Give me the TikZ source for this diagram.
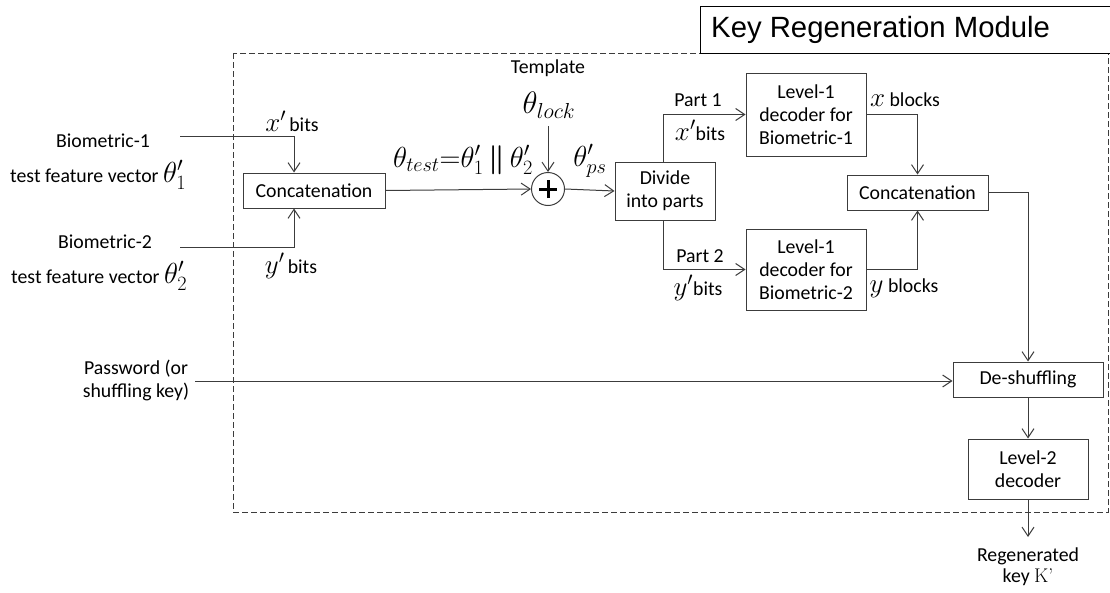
\RequirePackage{fix-cm}
\documentclass[tikz,border=0pt]{standalone}
\usepackage{amsmath}
\usepackage{fontspec}
\setmainfont{Carlito}
\newfontfamily\titlefont{Liberation Sans}
\newfontfamily\serifK{Latin Modern Roman}
\usetikzlibrary{arrows.meta,calc}
\definecolor{lncol}{HTML}{3C3C3C}
\newcommand{\mfs}{\fontsize{29}{32}\selectfont}
\newcommand{\xfs}{\fontsize{27}{30}\selectfont}
\newcommand{\tfs}{\fontsize{19.8}{23}\selectfont}
\begin{document}
\begin{tikzpicture}[x=1pt,y=-1pt,
  lbl/.style={font=\tfs, inner sep=0pt, align=center, text=black},
  mlbl/.style={font=\mfs, inner sep=0pt},
  blk/.style={draw=lncol, line width=1pt, inner sep=0pt, align=center, font=\tfs},
  arr/.style={draw=lncol, line width=1pt, -{Straight Barb[length=9pt,width=12pt,line width=1pt]}},
  ln/.style={draw=lncol, line width=1pt}]
\useasboundingbox (0,0) rectangle (1110,592);
\begin{scope}
\clip (0,0) rectangle (1110,592);
% dashed module frame
\draw[lncol, line width=1pt, dash pattern=on 6pt off 3pt] (233,53) rectangle (1108,512);
% title box
\node[draw=black, line width=1pt, fill=white, minimum width=420pt, minimum height=47pt, anchor=north west, inner sep=0pt] (title) at (700,6) {};
\node[anchor=west, inner sep=0pt, font=\titlefont\fontsize{29.3}{31}\selectfont] (titletext) at (711,30) {Key Regeneration Module};
\end{scope}

% blocks
\node[blk, minimum width=142pt, minimum height=35pt] (cat1) at (314,190.5) {Concatenation};
\node[draw=lncol, line width=1pt, circle, minimum size=33pt, inner sep=0pt] (plus) at (548,189) {};
\draw[line width=3pt] ([xshift=-9pt]plus.center) -- ([xshift=9pt]plus.center);
\draw[line width=3pt] ([yshift=-9pt]plus.center) -- ([yshift=9pt]plus.center);
\node[blk, minimum width=100pt, minimum height=58pt] (divide) at (665,191) {Divide\\into parts};
\node[blk, minimum width=120pt, minimum height=83pt] (dec1) at (806,114.5) {Level-1\\decoder for\\Biometric-1};
\node[blk, minimum width=120pt, minimum height=81pt] (dec2) at (806,269.5) {Level-1\\decoder for\\Biometric-2};
\node[blk, minimum width=141pt, minimum height=35pt] (cat2) at (917.5,192.5) {Concatenation};
\node[blk, minimum width=150pt, minimum height=35pt] (desh) at (1028,379.5) {De-shuffling};
\node[blk, minimum width=120pt, minimum height=60pt] (lev2) at (1028,469) {Level-2\\decoder};

% inputs and labels
\node[lbl] (bio1) at (103,141) {Biometric-1};
\node[lbl, anchor=base west] (tfv1) at (10,182) {test feature vector \mfs$\theta'_1$};
\node[lbl] (bio2) at (105,242) {Biometric-2};
\node[lbl, anchor=base west] (tfv2) at (11,283) {test feature vector \mfs$\theta'_2$};
\node[lbl] (pw) at (136,380.5) {Password (or\\shuffling key)};
\node[lbl] (xb1) at (292,121) {\xfs$x'$\tfs\,bits};
\node[lbl] (yb1) at (291,266) {\xfs$y'$\tfs\,bits};
\node[lbl] (tmpl) at (548,68) {Template};
\node[mlbl, font=\fontsize{31}{34}\selectfont] (lock) at (549,105) {$\theta_{lock}$};
\node[mlbl] (ttest) at (463,160) {$\theta_{test}\mathbf{=}\theta'_1\,\boldsymbol{\|}\,\theta'_2$};
\node[mlbl] (tps) at (590,161) {$\theta'_{ps}$};
\node[lbl] (p1) at (698,100) {Part 1};
\node[lbl] (xb2) at (700,130) {\xfs$x'$\tfs bits};
\node[lbl] (p2) at (700,256) {Part 2};
\node[lbl] (yb2) at (698,288) {\xfs$y'$\tfs bits};
\node[lbl] (xbl) at (905,100) {\xfs$x$\tfs\ blocks};
\node[lbl] (ybl) at (904,288) {\xfs$y$\tfs\ blocks};
\node[lbl, font=\fontsize{19.8}{21}\selectfont] (regk) at (1028,567) {Regenerated\\key {\serifK K\textquoteright}};

% coordinates
\coordinate (b1s) at (180,136);
\coordinate (b2s) at (180,247);
\coordinate (pws) at (195,381);
\coordinate (lks) at (548,126);
\coordinate (kend) at (1028,537);

% connectors
\draw[arr] (b1s) -| ([xshift=-20pt]cat1.north);
\draw[arr] (b2s) -| ([xshift=-20pt]cat1.south);
\draw[arr] (cat1.east) -- (plus.west);
\draw[arr] (lks) -- (plus.north);
\draw[arr] (plus.east) -- (divide.west);
\draw[arr] ([xshift=-2pt]divide.north) |- (dec1.west);
\draw[arr] ([xshift=-2pt]divide.south) |- (dec2.west);
\draw[arr] (dec1.east) -| (cat2.north);
\draw[arr] (dec2.east) -| (cat2.south);
\draw[arr] (cat2.east) -| (desh.north);
\draw[arr] (pws) -- (pws -| desh.west);
\draw[arr] (desh.south) -- (lev2.north);
\draw[arr] (lev2.south) -- (kend);
\end{tikzpicture}
\end{document}
